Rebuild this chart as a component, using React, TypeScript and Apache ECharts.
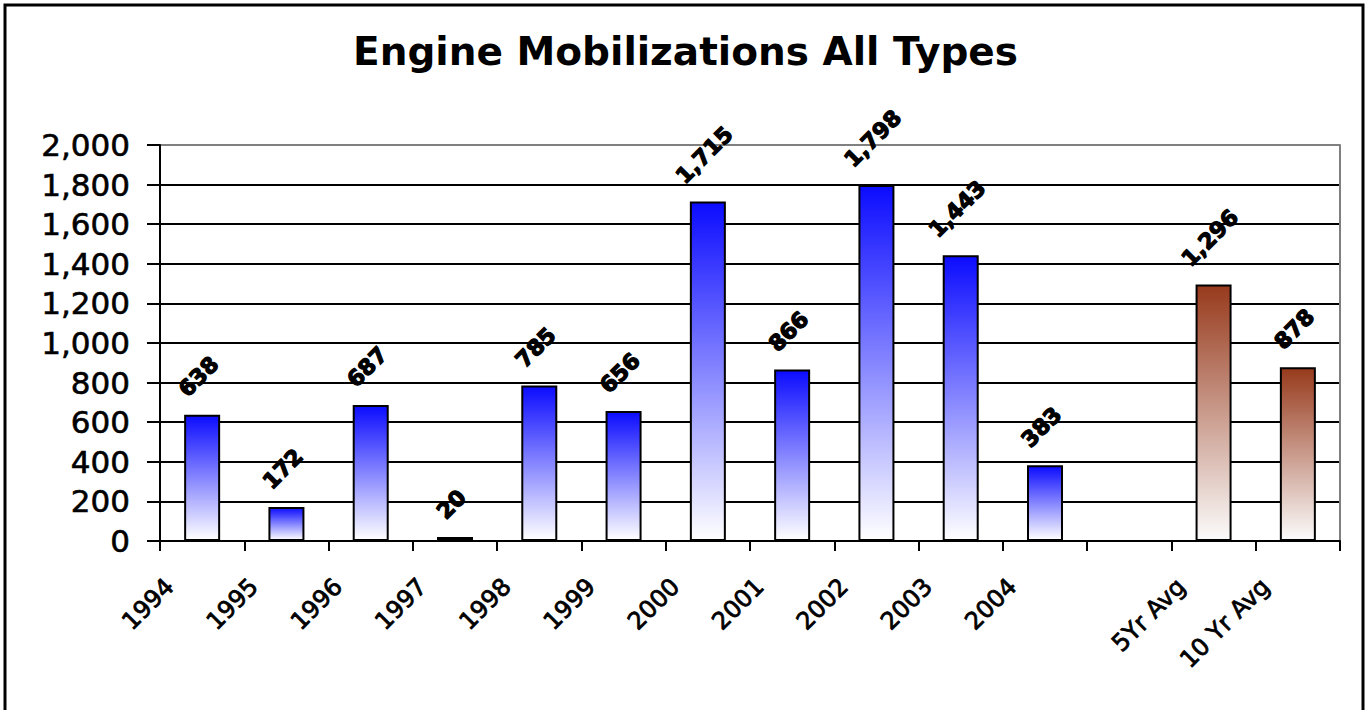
import React, { useEffect, useRef } from "react";
import * as echarts from "echarts";

const titleText = "Engine Mobilizations All Types";
const categories = ["1994", "1995", "1996", "1997", "1998", "1999", "2000", "2001", "2002", "2003", "2004", "", "5Yr Avg", "10 Yr Avg"];
const yearValues = [638, 172, 687, 20, 785, 656, 1715, 866, 1798, 1443, 383];
const avgValues = [1296, 878];
const yMin = 0;
const yMax = 2000;
const yInterval = 200;

const FONT = "DejaVu Sans";
const fmt = (v: number) => v.toLocaleString("en-US");

function textWidth(s: string, font: string): number {
  const c = document.createElement("canvas").getContext("2d");
  if (!c) return s.length * 14;
  c.font = font;
  return c.measureText(s).width;
}

const blueGrad = () =>
  new echarts.graphic.LinearGradient(0, 0, 0, 1, [
    { offset: 0, color: "#0c0cff" },
    { offset: 1, color: "#ffffff" },
  ]);
const brownGrad = () =>
  new echarts.graphic.LinearGradient(0, 0, 0, 1, [
    { offset: 0, color: "#973a1c" },
    { offset: 1, color: "#fbfbfb" },
  ]);

export default function App() {
  const ref = useRef<HTMLDivElement>(null);
  useEffect(() => {
    if (!ref.current) return;
    const chart = echarts.init(ref.current, undefined, { renderer: "svg" });
    const labelFont = `bold 22px "${FONT}"`;
    const mkItem = (v: number, avg: boolean) => {
      const w = textWidth(fmt(v), labelFont);
      return {
        value: v,
        itemStyle: { color: avg ? brownGrad() : blueGrad() },
        label: { distance: 20 + 0.354 * (w + 15) },
      };
    };
    const data: any[] = [
      ...yearValues.map((v) => mkItem(v, false)),
      null,
      ...avgValues.map((v) => mkItem(v, true)),
    ];
    const splitColors: string[] = [];
    for (let v = yMin; v < yMax; v += yInterval) splitColors.push("#000000");
    splitColors.push("#808080");

    chart.setOption({
      animation: false,
      backgroundColor: "#ffffff",
      title: {
        text: titleText,
        left: "center",
        top: 27,
        textStyle: { fontFamily: FONT, fontSize: 39, fontWeight: "bold", color: "#000" },
      },
      grid: { left: 160, top: 145, right: 31, bottom: 169, containLabel: false },
      xAxis: {
        type: "category",
        data: categories,
        axisLine: { show: true, lineStyle: { color: "#000", width: 2 } },
        axisTick: { show: true, inside: false, length: 10, lineStyle: { color: "#000", width: 2 } },
        axisLabel: {
          interval: 0,
          rotate: 45,
          margin: 9,
          padding: [0, 46, 0, 0],
          fontFamily: FONT,
          fontSize: 24,
          color: "#000",
          textBorderColor: "#000",
          textBorderWidth: 0.8,
        },
        splitLine: { show: false },
      },
      yAxis: [
        {
          type: "value",
          min: yMin,
          max: yMax,
          interval: yInterval,
          axisLine: { show: true, lineStyle: { color: "#000", width: 2 } },
          axisTick: { show: true, inside: false, length: 13, lineStyle: { color: "#000", width: 2 } },
          axisLabel: {
            margin: 30,
            fontFamily: FONT,
            fontSize: 31,
            color: "#000",
            textBorderColor: "#000",
            textBorderWidth: 0.6,
            formatter: (v: number) => fmt(v),
          },
          splitLine: { show: true, lineStyle: { color: splitColors, width: 2 } },
        },
        {
          type: "value",
          position: "right",
          min: yMin,
          max: yMax,
          interval: yInterval,
          axisLine: { show: true, lineStyle: { color: "#808080", width: 2 } },
          axisTick: { show: false },
          axisLabel: { show: false },
          splitLine: { show: false },
        },
      ],
      series: [
        {
          type: "bar",
          data,
          barWidth: 36,
          itemStyle: { borderColor: "#000", borderWidth: 2 },
          label: {
            show: true,
            position: "top",
            rotate: 45,
            align: "center",
            verticalAlign: "middle",
            offset: [-5, 0],
            fontFamily: FONT,
            fontSize: 22,
            fontWeight: "bold",
            color: "#000",
            textBorderColor: "#000",
            textBorderWidth: 1.2,
            formatter: (p: any) => fmt(p.value),
          },
        },
      ],
      graphic: [
        {
          type: "rect",
          shape: { x: 5, y: 5, width: 1358, height: 720 },
          style: { fill: "none", stroke: "#000", lineWidth: 3 },
          silent: true,
        },
      ],
    });
    return () => chart.dispose();
  }, []);
  return (
    <div
      ref={ref}
      style={{ position: "fixed", left: 0, top: 0, width: 1371, height: 710, background: "#fff" }}
    />
  );
}
